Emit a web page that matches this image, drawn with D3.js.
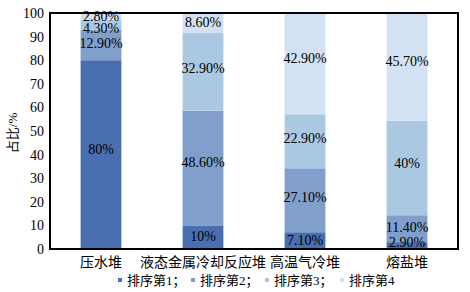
<!DOCTYPE html>
<html>
<head>
<meta charset="utf-8">
<script src="https://cdn.jsdelivr.net/npm/d3@7"></script>
<style>
  body { margin: 0; background: #fff; }
  text { font-family: "Liberation Serif", "Noto Sans CJK SC", serif; fill: #000; }
</style>
</head>
<body>
<script>
  const categories = ["压水堆", "液态金属冷却反应堆", "高温气冷堆", "熔盐堆"];
  const seriesNames = ["排序第1", "排序第2", "排序第3", "排序第4"];
  const rank1 = [80, 10, 7.1, 2.9];
  const rank2 = [12.9, 48.6, 27.1, 11.4];
  const rank3 = [4.3, 32.9, 22.9, 40];
  const rank4 = [2.8, 8.6, 42.9, 45.7];
  const labels1 = ["80%", "10%", "7.10%", "2.90%"];
  const labels2 = ["12.90%", "48.60%", "27.10%", "11.40%"];
  const labels3 = ["4.30%", "32.90%", "22.90%", "40%"];
  const labels4 = ["2.80%", "8.60%", "42.90%", "45.70%"];
  const yTicks = [0, 10, 20, 30, 40, 50, 60, 70, 80, 90, 100];

  const colors = ["#4a6fb1", "#809fcb", "#abc8e2", "#d2e2f2"];

  const w = 470, h = 292;
  const margin = { left: 50, right: 12, top: 13, bottom: 43 };

  const svg = d3.select("body").append("svg")
    .attr("width", w).attr("height", h);

  const x = d3.scaleBand()
    .domain(categories)
    .range([margin.left, w - margin.right])
    .paddingInner(0.6).paddingOuter(0.3);

  const y = d3.scaleLinear()
    .domain([0, 100])
    .range([h - margin.bottom, margin.top]);

  const values = [rank1, rank2, rank3, rank4];
  const labels = [labels1, labels2, labels3, labels4];

  const rows = categories.map((c, i) => {
    const r = { cat: c };
    seriesNames.forEach((s, j) => { r[s] = values[j][i]; });
    return r;
  });
  const stack = d3.stack().keys(seriesNames)(rows);

  // bars
  stack.forEach((layer, j) => {
    svg.append("g").selectAll("rect")
      .data(layer)
      .enter().append("rect")
      .attr("x", d => x(d.data.cat))
      .attr("y", d => y(Math.min(d[1], 100)))
      .attr("width", x.bandwidth())
      .attr("height", d => y(d[0]) - y(Math.min(d[1], 100)))
      .attr("fill", colors[j]);
  });

  // labels, top down per bar, nudged apart when too close
  categories.forEach((c, i) => {
    let prev = -Infinity;
    for (let j = seriesNames.length - 1; j >= 0; j--) {
      const d = stack[j][i];
      const top = y(Math.min(d[1], 100)), bot = y(d[0]);
      const segH = bot - top;
      let cy = (top + bot) / 2 - Math.min(6, segH * 0.05);
      cy = Math.max(cy, prev + 12.5);
      cy = Math.min(cy, y(0) - 7);
      prev = cy;
      svg.append("text")
        .attr("x", x(c) + x.bandwidth() / 2)
        .attr("y", cy)
        .attr("dy", "0.35em")
        .attr("text-anchor", "middle")
        .attr("font-size", "14px")
        .text(labels[j][i]);
    }
  });

  // frame
  const x0 = margin.left, x1 = w - margin.right;
  svg.append("rect")
    .attr("x", x0).attr("y", y(100))
    .attr("width", x1 - x0).attr("height", y(0) - y(100))
    .attr("fill", "none").attr("stroke", "#000").attr("stroke-width", 2);

  // y axis
  const yAxis = svg.append("g")
    .attr("transform", `translate(${x0},0)`)
    .call(d3.axisLeft(y).tickValues(yTicks).tickSize(0).tickPadding(6));
  yAxis.select(".domain").remove();
  yAxis.selectAll("text")
    .attr("font-size", "14px")
    .style("font-family", "'Liberation Serif', serif");

  // x axis labels
  const xAxis = svg.append("g")
    .attr("transform", `translate(0,${y(0)})`)
    .call(d3.axisBottom(x).tickSize(0).tickPadding(8));
  xAxis.select(".domain").remove();
  xAxis.selectAll("text")
    .attr("font-size", "14px")
    .style("font-family", "'Liberation Serif', 'Noto Sans CJK SC', serif");

  // y title
  svg.append("text")
    .attr("transform", `translate(17,${(y(0) + y(100)) / 2 + 2}) rotate(-90)`)
    .attr("text-anchor", "middle")
    .attr("font-size", "13px")
    .text("占比/%");

  // legend
  const legendX = [118, 191, 265, 340];
  const lg = svg.append("g").attr("transform", "translate(0,280)");
  seriesNames.forEach((s, j) => {
    lg.append("rect")
      .attr("x", legendX[j]).attr("y", -2)
      .attr("width", 4).attr("height", 4)
      .attr("fill", colors[j]);
    lg.append("text")
      .attr("x", legendX[j] + 9)
      .attr("dy", "0.35em")
      .attr("font-size", "13px")
      .text(s + (j < seriesNames.length - 1 ? "；" : ""));
  });
</script>
</body>
</html>
